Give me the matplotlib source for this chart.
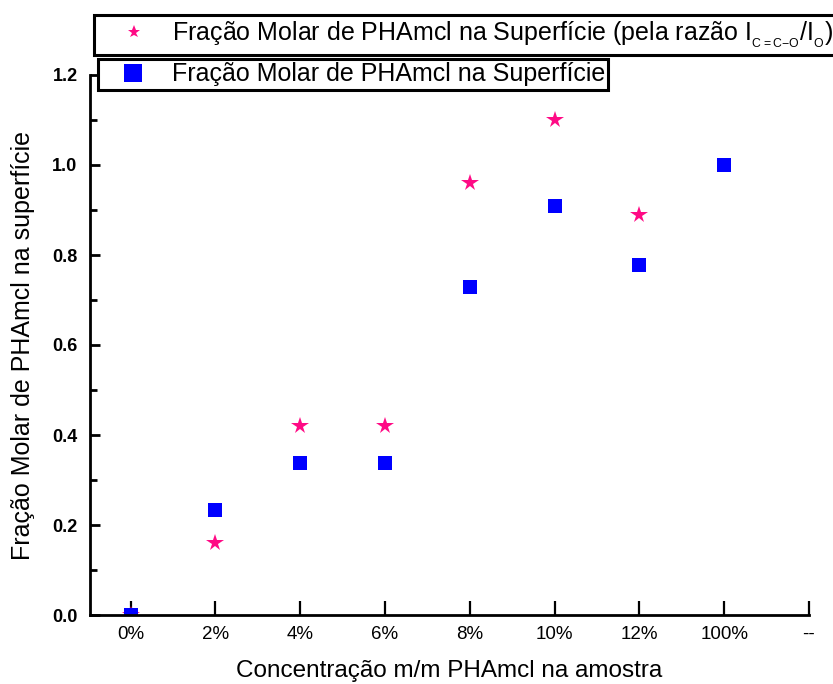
import matplotlib.pyplot as plt
from matplotlib.ticker import MultipleLocator
import numpy as np

# Categories on the x axis
categories = ['0%', '2%', '4%', '6%', '8%', '10%', '12%', '100%', '--']

# Surface molar fraction, from the I(C=C-O)/I(O) ratio (stars)
ratio_cats = ['0%', '2%', '4%', '6%', '8%', '10%', '12%']
ratio_vals = [0.0, 0.16, 0.42, 0.42, 0.96, 1.10, 0.89]

# Surface molar fraction (squares)
surf_cats = ['0%', '2%', '4%', '6%', '8%', '10%', '12%', '100%']
surf_vals = [0.0, 0.234, 0.338, 0.338, 0.73, 0.909, 0.777, 1.0]

label_ratio = ('Fração Molar de PHAmcl na Superfície (pela razão '
               'I$_{_{C{=}C{-}O}}$/I$_{_{O}}$)')
label_surf = 'Fração Molar de PHAmcl na Superfície'


def plot_chart():
    plt.rcParams['font.family'] = ['Liberation Sans', 'DejaVu Sans']
    plt.rcParams['mathtext.default'] = 'regular'

    fig = plt.figure(figsize=(8.33, 6.84), dpi=100)
    ax = fig.add_axes([90 / 833, 69 / 684, 719 / 833, 540 / 684])

    pos = {c: i + 1 for i, c in enumerate(categories)}
    xr = [pos[c] for c in ratio_cats]
    xs = [pos[c] for c in surf_cats]

    h1, = ax.plot(xr, ratio_vals, linestyle='none', marker='*',
                  markersize=13, color='#FF0A85', markeredgewidth=0)
    h2, = ax.plot(xs, surf_vals, linestyle='none', marker='s',
                  markersize=9.5, color='#0000FF', markeredgewidth=0)

    ax.set_xlim(0.52, 9)
    ax.set_ylim(0, 1.2)
    ax.set_xticks(range(1, len(categories) + 1))
    ax.set_xticklabels(categories)
    ax.yaxis.set_major_locator(MultipleLocator(0.2))
    ax.yaxis.set_minor_locator(MultipleLocator(0.1))
    ax.yaxis.set_major_formatter(lambda v, p: f'{v:.1f}')

    for side in ['top', 'right']:
        ax.spines[side].set_visible(False)
    for side in ['left', 'bottom']:
        ax.spines[side].set_linewidth(2)

    ax.tick_params(axis='y', which='major', direction='in', length=7,
                   width=2, pad=9, labelsize=13)
    ax.tick_params(axis='y', which='minor', direction='in', length=5,
                   width=2)
    ax.tick_params(axis='x', direction='in', length=10, width=1.6,
                   pad=8, labelsize=13.5)
    for t in ax.get_yticklabels():
        t.set_fontweight('bold')

    ax.set_xlabel('Concentração m/m PHAmcl na amostra', fontsize=17.5,
                  labelpad=12)
    ax.set_ylabel('Fração Molar de PHAmcl na superfície', fontsize=18,
                  labelpad=12)

    # Two separate legend boxes, the first one runs up to the right edge
    leg1 = fig.legend([h1], [label_ratio], loc='upper left',
                      bbox_to_anchor=(94 / 833, 1 - 15 / 684),
                      borderaxespad=0, fontsize=18, fancybox=False,
                      edgecolor='black', framealpha=1, borderpad=0.2,
                      handlelength=2.8, handletextpad=0.1, markerscale=0.75)
    leg1.get_frame().set_linewidth(2.2)
    leg2 = fig.legend([h2], [label_surf], loc='upper left',
                      bbox_to_anchor=(98 / 833, 1 - 59 / 684),
                      borderaxespad=0, fontsize=18, fancybox=False,
                      edgecolor='black', framealpha=1, borderpad=0.14,
                      handlelength=2.5, handletextpad=0.3, markerscale=1.35)
    leg2.get_frame().set_linewidth(2.2)

    fig.savefig('out.png', dpi=100)


plot_chart()
